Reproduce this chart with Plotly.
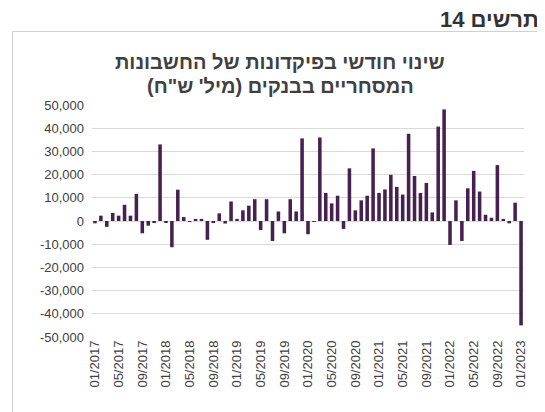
import plotly.graph_objects as go

years = ["2017", "2018", "2019", "2020", "2021", "2022", "2023"]
month_codes = ["01", "02", "03", "04", "05", "06", "07", "08", "09", "10", "11", "12"]
categories = [f"{m}/{y}" for y in years for m in month_codes][:73]

values = [
    # 2017
    -1000, 2300, -2500, 3500, 2300, 7000, 2300, 11700, -5300, -2000, -600, 33000,
    # 2018
    -600, -11300, 13500, 1700, -400, 900, 900, -8100, -900, 3300, -1100, 8400,
    # 2019
    900, 4600, 6600, 9400, -3900, 9400, -8600, 4100, -5300, 9400, 4100, 35600,
    # 2020
    -5700, -400, 36000, 12100, 7600, 10900, -3400, 22700, 4600, 8900, 10900, 31300,
    # 2021
    12100, 13600, 19900, 14700, 11400, 37600, 19400, 12100, 16400, 3700, 40700, 48100,
    # 2022
    -10300, 8900, -8600, 14100, 21600, 12700, 2700, 1400, 24100, 900, -1000, 7900,
    # 2023
    -45000,
]

x_tick_labels = ["01/2017", "05/2017", "09/2017", "01/2018", "05/2018", "09/2018",
                 "01/2019", "05/2019", "09/2019", "01/2020", "05/2020", "09/2020",
                 "01/2021", "05/2021", "09/2021", "01/2022", "05/2022", "09/2022",
                 "01/2023"]
y_tick_vals = [50000, 40000, 30000, 20000, 10000, 0, -10000, -20000, -30000, -40000, -50000]
y_tick_labels = ["50,000", "40,000", "30,000", "20,000", "10,000", "0",
                 "-10,000", "-20,000", "-30,000", "-40,000", "-50,000"]

fig_title = "תרשים 14"
chart_title_1 = "שינוי חודשי בפיקדונות של החשבונות"
chart_title_2 = "\u200fהמסחריים בבנקים (מיל' ש\"ח)\u200f"

BAR = "#46204f"
TXT = "#404040"
FONT = "Arial, 'Liberation Sans', sans-serif"

# the page body adds an 8px offset; page coordinates below are converted
OFF = 8
W, H = 545 - OFF, 412 - OFF
L, R, T, B = 84, 21, 97, 75
pw, ph = W - L - R, H - T - B


def px(xpage):
    return (xpage - OFF - L) / pw


def py(ypage):
    return (H - B - (ypage - OFF)) / ph


fig = go.Figure(
    go.Bar(x=categories, y=values, marker=dict(color=BAR, line=dict(width=0)))
)

fig.update_layout(
    width=W, height=H,
    margin=dict(l=L, r=R, t=T, b=B, autoexpand=False),
    paper_bgcolor="white", plot_bgcolor="white",
    bargap=0.4,
    showlegend=False,
    font=dict(family=FONT, size=13, color=TXT),
    xaxis=dict(
        type="category",
        range=[-0.5, len(categories) - 0.5],
        tickmode="array", tickvals=x_tick_labels, ticktext=x_tick_labels,
        tickangle=-90, showgrid=False, showline=False, ticks="",
        tickfont=dict(size=13, color=TXT, family=FONT),
    ),
    yaxis=dict(
        range=[-50000, 50000],
        tickmode="array", tickvals=y_tick_vals, ticktext=y_tick_labels,
        showgrid=True, gridcolor="#d9d9d9", gridwidth=1,
        zeroline=True, zerolinecolor="#d9d9d9", zerolinewidth=1,
        showline=False, ticks="", ticklabelstandoff=7,
        tickfont=dict(size=13, color=TXT, family=FONT),
    ),
    shapes=[
        dict(type="rect", xref="paper", yref="paper",
             x0=px(12.5), x1=px(560),
             y0=py(430), y1=py(31.5),
             line=dict(color="#d0d0d0", width=1), fillcolor="rgba(0,0,0,0)",
             layer="below"),
    ],
    annotations=[
        dict(text="<b>" + fig_title + "</b>", xref="paper", yref="paper",
             x=px(541), y=py(20), xanchor="right", yanchor="middle",
             showarrow=False, font=dict(size=22, color="#333333", family=FONT)),
        dict(text="<b>" + chart_title_1 + "</b>", xref="paper", yref="paper",
             x=px(280), y=py(62), xanchor="center", yanchor="middle",
             showarrow=False, font=dict(size=20, color=TXT, family=FONT)),
        dict(text="<b>" + chart_title_2 + "</b>", xref="paper", yref="paper",
             x=px(280), y=py(86), xanchor="center", yanchor="middle",
             showarrow=False, font=dict(size=20, color=TXT, family=FONT)),
    ],
)

fig.write_html("out.html")
